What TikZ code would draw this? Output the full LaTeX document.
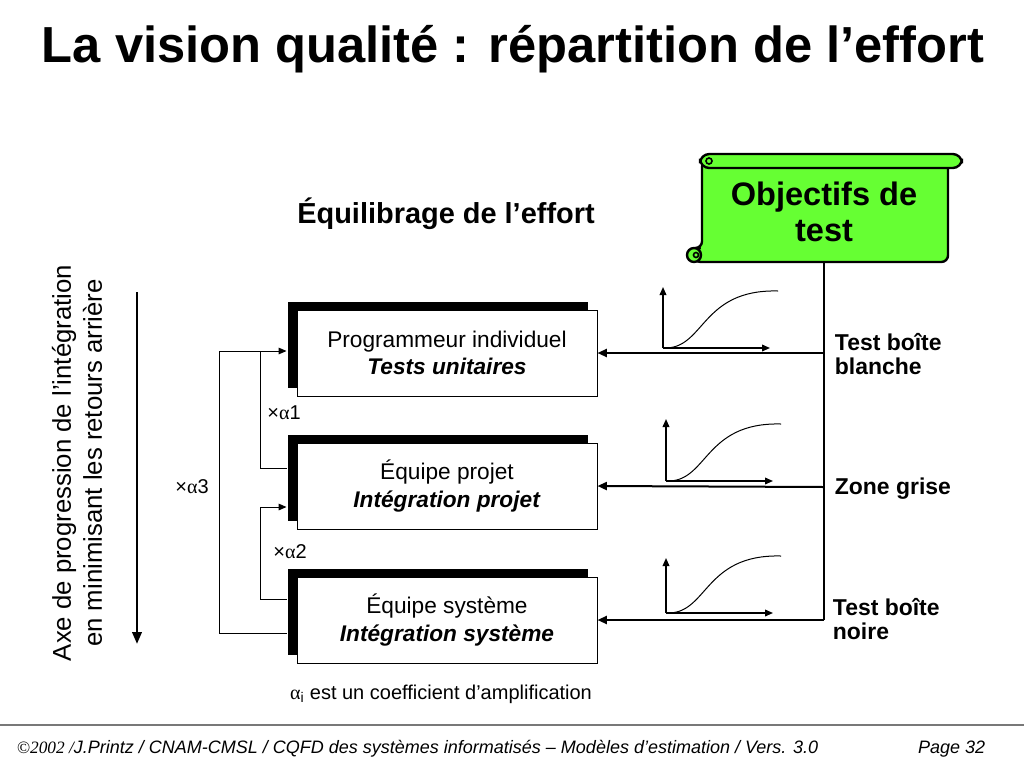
\documentclass[tikz,border=0pt]{standalone}
\usepackage{fontspec}
\setmainfont{Liberation Sans}
\newfontfamily\symfont{Liberation Serif}
\usetikzlibrary{arrows.meta,calc,shadows}

\definecolor{scrollgreen}{RGB}{102,255,51}
\definecolor{rulegray}{RGB}{120,120,120}

\tikzset{every picture/.style={line width=0.75pt}}
\tikzset{
  stagebox/.style={draw, fill=white, line width=0.75pt, minimum width=225pt, minimum height=64.5pt,
    align=center, font=\fontsize{17}{20.5}\selectfont,
    drop shadow={shadow xshift=-6.75pt, shadow yshift=6pt, opacity=1, fill=black}},
  feedback/.style={line width=0.75pt},
  testarrow/.style={line width=1.5pt, -{Triangle[length=7pt,width=6pt]}},
  axisarrow/.style={line width=1.1pt, -{Triangle[length=6pt,width=5pt]}},
  sidelabel/.style={anchor=west, align=left, font=\fontsize{17.2}{18}\bfseries},
  coeflabel/.style={font=\fontsize{15}{18}\selectfont},
}

\begin{document}
\begin{tikzpicture}[x=0.75pt,y=0.75pt,yscale=-1,xscale=1]
\useasboundingbox (0,0) rectangle (1024,768);

% Text Node
\node (title) [anchor=base, font=\fontsize{38}{40}\bfseries] at (513,62) {La vision qualité : répartition de l’effort};
% Text Node
\node (balance) [anchor=base, font=\fontsize{21.7}{24}\bfseries] at (446,223) {Équilibrage de l’effort};

%Shape: Scroll [id:scroll]
\draw [line width=1.8pt, fill=scrollgreen, rounded corners=5] (702,160) -- (948,160) -- (948,262) -- (694,262) -- (694,248) -- (702,248) -- cycle ;
\draw [line width=1.8pt, fill=scrollgreen] (694,255) circle (7) ;
\draw [line width=1.2pt] (696,255) circle (2.5) ;
\draw [line width=1.8pt, fill=scrollgreen, rounded corners=7] (700,154) rectangle (962,168) ;
\draw [line width=1.2pt] (709,161) circle (3) ;
% Text Node
\node (goal) [align=center, font=\fontsize{24.4}{26.5}\bfseries] at (824,212) {Objectifs de\\test};
\coordinate (goalfoot) at (824,262);

% Boxes
\node (b1) [stagebox] at (447,353) {Programmeur individuel\\\textbf{\textit{Tests unitaires}}};
\node (b2) [stagebox] at (447,486) {Équipe projet\\\textbf{\textit{Intégration projet}}};
\node (b3) [stagebox] at (447,620) {Équipe système\\\textbf{\textit{Intégration système}}};

%Straight Lines (feedback loops)
\coordinate (in1) at ($(b1.west)+(-10,-2)$);
\coordinate (in2) at ($(b2.west)+(-10,21)$);
\coordinate (out2) at ($(b2.west)+(-10,-18)$);
\coordinate (out3) at ($(b3.west)+(-10,-21)$);
\coordinate (out3b) at ($(b3.west)+(-10,13)$);
\coordinate (j1) at (260,351);
\coordinate (j2) at (260,507);
\coordinate (j3) at (219,351);
\draw [feedback, -{Triangle[length=6pt,width=5pt]}] (j1) -- (in1) ;
\draw [feedback] (out2) -| (j1) ;
\draw [feedback, -{Triangle[length=6pt,width=5pt]}] (out3) -| (j2) -- (in2) ;
\draw [feedback] (out3b) -| (j3) -- (j1) ;
% Text Node
\node (a1) [coeflabel] at (284,413) {×{\symfont α}1};
\node (a2) [coeflabel] at (290,552) {×{\symfont α}2};
\node (a3) [coeflabel] at (192,487) {×{\symfont α}3};
\node (note) [coeflabel] at (441,694) {{\symfont α}\textsubscript{i} est un coefficient d’amplification};

%Straight Lines (progression axis)
\coordinate (axtop) at (137,292);
\coordinate (axbot) at (137,644);
\draw [line width=2pt, -{Triangle[length=9pt,width=7pt]}] (axtop) -- (axbot) ;
% Text Node
\node (axis) [rotate=90, align=center, font=\fontsize{19.3}{23.2}\selectfont] at (77,463) {Axe de progression de l’intégration\\en minimisant les retours arrière};

%Straight Lines (test objectives)
\coordinate (r1) at (824,353);
\coordinate (r2) at (824,487);
\coordinate (r3) at (824,620);
\draw [line width=1.5pt] (goalfoot) -- (r3) ;
\draw [testarrow] (r1) -- (b1.east) ;
\draw [testarrow] (r2) -- (b2.east) ;
\draw [testarrow] (r3) -- (b3.east) ;
% Text Node
\node (white) [sidelabel] at (830,354) {Test boîte\\blanche};
\node (grey) [sidelabel] at (830,489) {Zone grise};
\node (black) [sidelabel] at (828,619) {Test boîte\\noire};

%Small charts
\foreach \ox/\oy/\ht in {663/348/61, 666/481/62, 666/613/55}{
  \draw [axisarrow] (\ox,\oy) -- (\ox,\oy-\ht) ;
  \draw [axisarrow] (\ox,\oy) -- (\ox+107,\oy) ;
  \draw [line width=0.75pt] (\ox,\oy) .. controls (\ox+42,\oy+2) and (\ox+37,\oy-59) .. (\ox+115,\oy-57) ;
}

% Footer
\draw [rulegray, line width=1.5pt] (0,725) -- (1024,725) ;
\node (foot) [anchor=base west, font=\fontsize{13.5}{14}\itshape] at (12,753) {{\symfont\fontsize{13}{14}\selectfont ©2002 /}J.Printz / CNAM-CMSL / CQFD des systèmes informatisés – Modèles d’estimation / Vers. 3.0};
\node (page) [anchor=base east, font=\fontsize{13.5}{14}\itshape] at (990,753) {Page 32};

\end{tikzpicture}
\end{document}
